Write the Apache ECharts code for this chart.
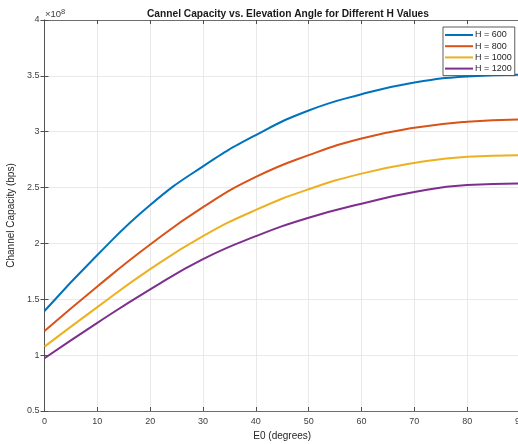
<!DOCTYPE html>
<html>
<head>
<meta charset="utf-8">
<script src="https://cdn.jsdelivr.net/npm/echarts@6/dist/echarts.min.js"></script>
<style>
  html, body { margin: 0; padding: 0; background: #fff; }
  #chart { width: 518px; height: 444px; }
</style>
</head>
<body>
<div id="chart"></div>
<script>
// elevation angles (degrees)
const angles = [0, 10, 20, 30, 40, 50, 60, 70, 80, 90];
// channel capacity, in units of 1e8 bps
const capH600 = [1.395, 1.896, 2.344, 2.69, 2.97, 3.19, 3.335, 3.44, 3.495, 3.51];
const capH800 = [1.216, 1.615, 1.99, 2.325, 2.595, 2.79, 2.94, 3.035, 3.09, 3.11];
const capH1000 = [1.076, 1.43, 1.77, 2.065, 2.3, 2.485, 2.625, 2.72, 2.777, 2.79];
const capH1200 = [0.972, 1.289, 1.589, 1.86, 2.065, 2.23, 2.355, 2.46, 2.523, 2.537];
const seriesNames = ["H = 600", "H = 800", "H = 1000", "H = 1200"];
const seriesColors = ["#0072BD", "#D95319", "#EDB120", "#7E2F8E"];

const font = "'Liberation Sans', Arial, Helvetica, sans-serif";
const axisColor = "#4d4d4d";

const chart = echarts.init(document.getElementById("chart"));

const allCaps = [capH600, capH800, capH1000, capH1200];
const series = allCaps.map((vals, i) => ({
  name: seriesNames[i],
  type: "line",
  showSymbol: false,
  symbol: "none",
  smooth: 0.5,
  data: angles.map((a, j) => [a, vals[j]]),
  lineStyle: { color: seriesColors[i], width: 2 },
  itemStyle: { color: seriesColors[i] },
}));

const option = {
  backgroundColor: "#fff",
  animation: false,
  textStyle: { fontFamily: font },
  title: {
    text: "Cannel Capacity vs. Elevation Angle for Different H Values",
    left: 142,
    top: 4,
    textStyle: { fontSize: 10.2, fontWeight: "bold", color: "#1a1a1a", fontFamily: font },
  },
  legend: {
    orient: "vertical",
    left: 443,
    top: 27,
    data: seriesNames,
    icon: "rect",
    itemWidth: 28,
    itemHeight: 2,
    itemGap: 1.2,
    padding: [3, 3, 2, 2],
    backgroundColor: "#fff",
    borderColor: "#333",
    borderWidth: 0.8,
    borderRadius: 0,
    textStyle: { fontSize: 9, color: "#262626", lineHeight: 10, padding: [0, 0, 0, -3] },
  },
  grid: { left: 44.5, top: 20, right: -2, bottom: 33, outerBoundsMode: "none", containLabel: false },
  xAxis: [
    {
      type: "value",
      min: 0,
      max: 90,
      interval: 10,
      name: "E0 (degrees)",
      nameLocation: "middle",
      nameGap: 18,
      nameTextStyle: { fontSize: 10, color: "#262626" },
      axisLine: { lineStyle: { color: axisColor, width: 0.8 } },
      axisTick: { inside: true, length: 4, lineStyle: { color: axisColor } },
      axisLabel: { fontSize: 9, color: "#404040", margin: 6 },
      splitLine: { show: true, lineStyle: { color: "#e3e3e3", width: 0.8 } },
    },
    {
      type: "value",
      position: "top",
      min: 0,
      max: 90,
      interval: 10,
      axisLine: { show: true, lineStyle: { color: axisColor, width: 0.8 } },
      axisTick: { show: true, inside: true, length: 4, lineStyle: { color: axisColor } },
      axisLabel: { show: false },
      splitLine: { show: false },
    },
  ],
  yAxis: [
    {
      type: "value",
      min: 0.5,
      max: 4,
      interval: 0.5,
      name: "Channel Capacity (bps)",
      nameLocation: "middle",
      nameGap: 24,
      nameTextStyle: { fontSize: 10, color: "#262626" },
      axisLine: { show: true, lineStyle: { color: axisColor, width: 0.8 } },
      axisTick: { show: true, inside: true, length: 4, lineStyle: { color: axisColor } },
      axisLabel: { fontSize: 9, color: "#404040", margin: 5 },
      splitLine: { show: true, lineStyle: { color: "#e3e3e3", width: 0.8 } },
    },
    {
      type: "value",
      position: "right",
      min: 0.5,
      max: 4,
      interval: 0.5,
      axisLine: { show: true, lineStyle: { color: axisColor, width: 0.8 } },
      axisTick: { show: true, inside: true, length: 4, lineStyle: { color: axisColor } },
      axisLabel: { show: false },
      splitLine: { show: false },
    },
  ],
  graphic: [
    {
      type: "text",
      left: 45,
      top: 8,
      style: {
        text: "\u00d710{sup|8}",
        font: "9.5px " + font,
        fill: "#404040",
        rich: { sup: { fontSize: 7.5, verticalAlign: "top", padding: [0, 0, 5, 0] } },
      },
    },
  ],
  series: series,
};

chart.setOption(option);
</script>
</body>
</html>
